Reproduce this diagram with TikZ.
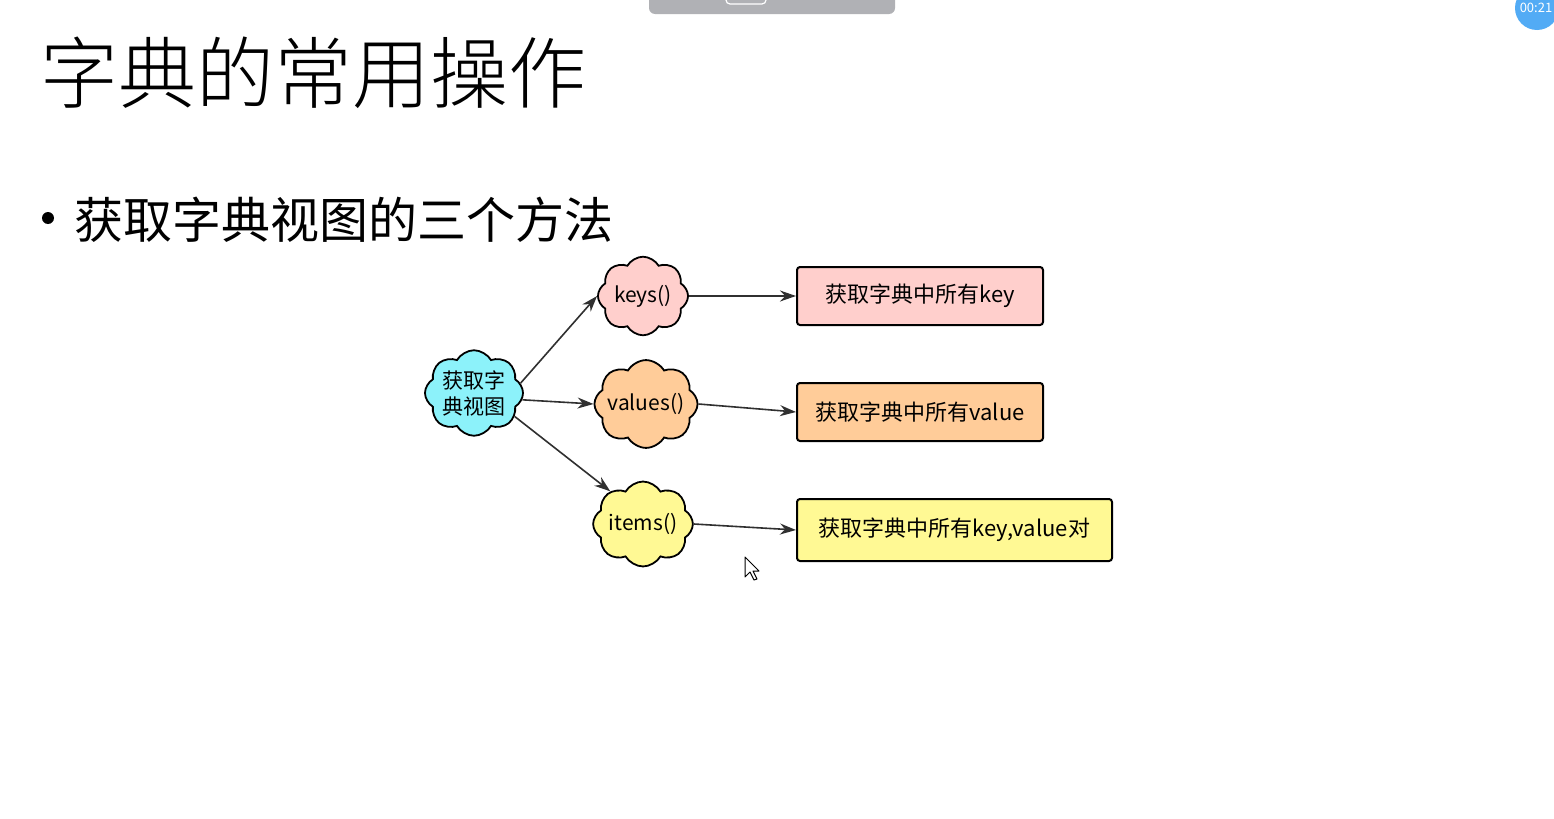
\documentclass[tikz,border=0pt]{standalone}
\usepackage{fontspec}
\setmainfont{Noto Sans CJK SC}
\newfontfamily\lightcjk{Noto Sans CJK SC Light}
\usepackage{xcolor}
\usetikzlibrary{arrows.meta,positioning,shapes.symbols}

\definecolor{hubcyan}{HTML}{8CF2FA}
\definecolor{keypink}{HTML}{FFCFCC}
\definecolor{valorange}{HTML}{FFCC99}
\definecolor{itemyellow}{HTML}{FFF994}
\definecolor{bargray}{HTML}{B0B1B5}
\definecolor{timerblue}{HTML}{52ABF5}
\definecolor{linkgray}{HTML}{303030}

\begin{document}
\begin{tikzpicture}[x=0.5pt,y=-0.5pt,
  puff/.style={cloud,cloud puffs=8,cloud puff arc=120,aspect=1.25,draw=black,line width=0.9pt,
    inner sep=0pt,align=center,font=\fontsize{10.5}{13}\selectfont},
  resultbox/.style={draw=black,line width=1pt,rounded corners=1.5pt,minimum height=29pt,
    inner sep=0pt,font=\fontsize{11}{13}\selectfont},
  link/.style={linkgray,line width=0.8pt,-{Stealth[length=8pt,width=5.5pt]}}]
  \useasboundingbox (0,0) rectangle (1554,819);
  \fill[white] (0,0) rectangle (1554,819);

  % screen furniture
  \begin{scope}
    \clip (0,0) rectangle (1554,819);
    \fill[bargray,rounded corners=3pt] (649,-10) rectangle (895,14);
    \draw[white,line width=0.6pt,rounded corners=2pt] (726,-6) rectangle (766,4);
    \fill[timerblue] (1537,8) circle (22);
    \node[white,font=\fontsize{6.5}{8}\selectfont] (timer) at (1536,8) {00:21};
  \end{scope}

  % title and bullet
  \node[anchor=west,inner sep=0pt,font=\lightcjk\fontsize{39}{45}\selectfont] (title) at (40,73) {字典的常用操作};
  \node[circle,fill=black,inner sep=0pt,minimum size=6pt] (dot) at (48,218) {};
  \node[anchor=west,inner sep=0pt,font=\fontsize{24.5}{28}\selectfont] (point) at (74,220) {获取字典视图的三个方法};

  % clouds
  \node[puff,fill=hubcyan,minimum width=38pt,minimum height=30pt] (hub) at (474,393) {获取字\\典视图};
  \node[puff,fill=keypink,minimum width=38pt,minimum height=29pt] (keys) at (643,296) {keys()};
  \node[puff,fill=valorange,inner sep=-2.5pt,aspect=1.3] (values) at (646,404) {values()};
  \node[puff,fill=itemyellow,inner sep=-1pt,aspect=1.3] (items) at (643,524) {items()};

  % result boxes
  \node[resultbox,fill=keypink,minimum width=123pt] (keybox) at (920,296) {获取字典中所有key};
  \node[resultbox,fill=valorange,minimum width=123pt] (valbox) at (920,412) {获取字典中所有value};
  \node[resultbox,fill=itemyellow,minimum width=157.5pt,minimum height=31pt] (itembox) at (954.5,530) {获取字典中所有key,value对};

  % links
  \draw[link] (hub.12) -- (keys.west);
  \draw[link] (hub.-8) -- (values.west);
  \draw[link] (hub.-30) -- (items.135);
  \draw[link] (keys.east) -- (keybox.west);
  \draw[link] (values.east) -- (valbox.west);
  \draw[link] (items.east) -- (itembox.west);

  % pointer
  \draw[black,fill=white,line width=0.5pt,line join=round]
    (745,557) -- (745,577) -- (750,572) -- (754,580) -- (757,579) -- (753,571) -- (759,571) -- cycle;
\end{tikzpicture}
\end{document}
